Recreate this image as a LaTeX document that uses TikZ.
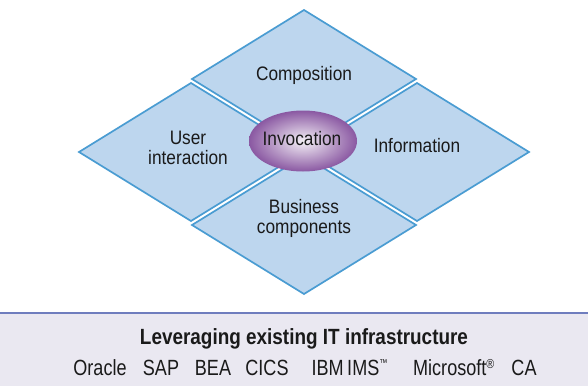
\documentclass[tikz,border=0pt]{standalone}
\usepackage{fontspec}
\setmainfont{Liberation Sans}
\newfontfamily\dfont[FakeStretch=0.885]{Liberation Sans}
\newfontfamily\bfont[FakeStretch=0.82]{Liberation Sans}
\newfontfamily\tfont[FakeStretch=0.86]{Liberation Sans}
\usetikzlibrary{shapes.geometric}
\definecolor{dfill}{HTML}{BDD6EE}
\definecolor{dline}{HTML}{4A9CD2}
\definecolor{ein}{HTML}{F4F0F6}
\definecolor{eout}{HTML}{8A58A2}
\definecolor{boxfill}{HTML}{EAE8F1}
\definecolor{boxline}{HTML}{6F7DBE}
\definecolor{txt}{HTML}{1A1A1A}
\tikzset{
  diam/.style={fill=dfill, draw=dline, line width=1.7pt},
  dtext/.style={anchor=base, align=center, text=txt, inner sep=0pt, font=\dfont\fontsize{19.5}{20}\selectfont},
  btitle/.style={anchor=base, text=txt, inner sep=0pt, font=\tfont\bfseries\fontsize{22}{24}\selectfont},
  bword/.style={anchor=base, text=txt, inner sep=0pt, font=\bfont\fontsize{22}{24}\selectfont},
}
\begin{document}
\begin{tikzpicture}[x=1pt,y=-1pt]
\useasboundingbox (0,0) rectangle (588,386);
% diamonds
\foreach \cx/\cy in {304/79, 191/152, 417/152, 304/225}{
  \draw[diam] (\cx-112,\cy) -- (\cx,\cy-69) -- (\cx+112,\cy) -- (\cx,\cy+69) -- cycle;
}
% ellipse
\node[ellipse, minimum width=108pt, minimum height=61pt, inner sep=0pt,
      shading=radial, inner color=ein, outer color=eout] (inv) at (303,141) {};
% texts
\node[dtext] (comp) at (304,80) {Composition};
\node[dtext] (user) at (188,164) {User\\interaction};
\node[dtext] (info) at (417,152.5) {Information};
\node[dtext] (bus) at (304,233.5) {Business\\components};
\node[dtext] (invt) at (302,145.5) {Invocation};
% bottom box
\fill[boxfill] (0,313) rectangle (588,386);
\draw[boxline, line width=2pt] (0,313) -- (588,313);
\node[btitle] (title) at (304,344) {Leveraging existing IT infrastructure};
\node[bword] (w1) at (100,375) {Oracle};
\node[bword] (w2) at (161,375) {SAP};
\node[bword] (w3) at (213,375) {BEA};
\node[bword] (w4) at (267,375) {CICS};
\node[bword] (w5) at (349.5,375) {IBM\,IMS\raisebox{8.5pt}{\fontsize{10}{10}\selectfont ™}};
\node[bword] (w6) at (453.7,375) {Microsoft\raisebox{0.55ex}{\fontsize{13}{14}\selectfont ®}};
\node[bword] (w7) at (524,375) {CA};
\end{tikzpicture}
\end{document}
